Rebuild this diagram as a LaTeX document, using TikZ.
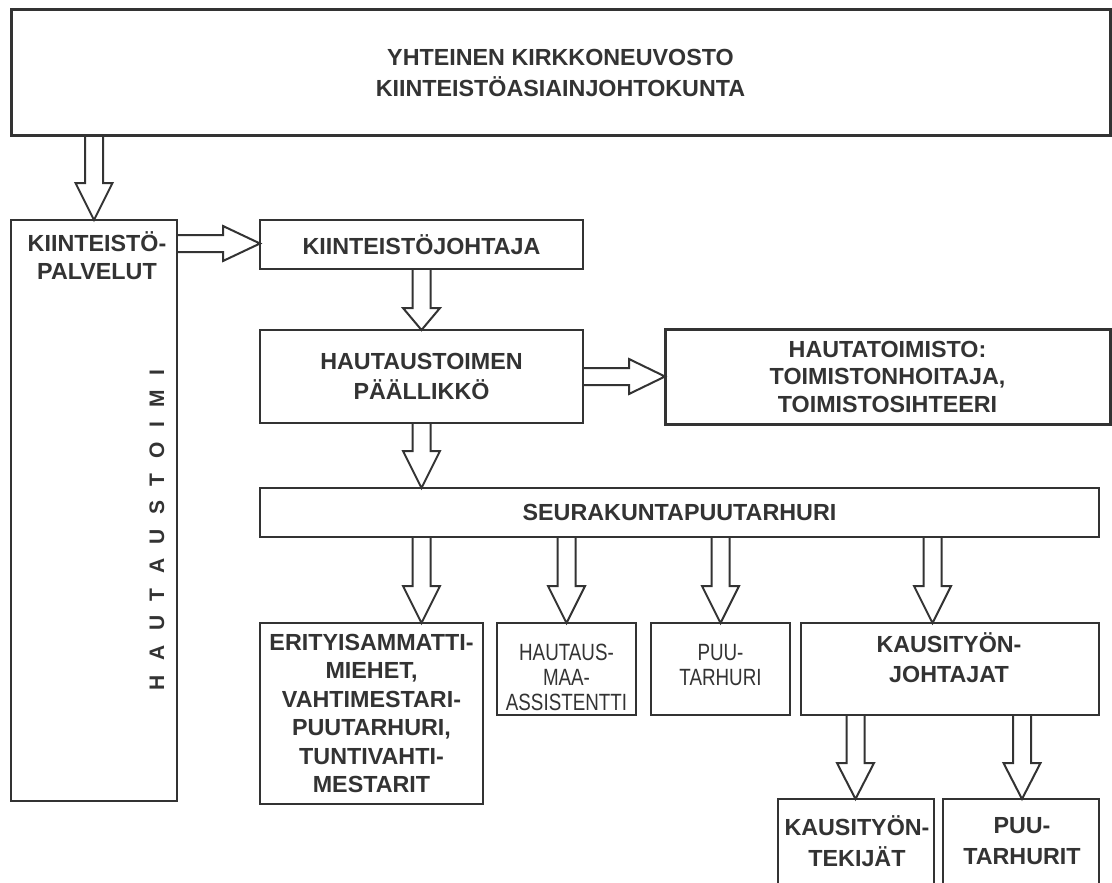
\documentclass[tikz,border=0pt]{standalone}
\usepackage{fontspec}
\setmainfont{Liberation Sans}
\newfontfamily\narrowfont[FakeStretch=0.8]{Liberation Sans}
\usetikzlibrary{calc}
\definecolor{ink}{HTML}{333333}
\tikzset{
  box/.style={draw=ink, line width=2pt, rectangle, inner sep=0pt, outer sep=0pt,
    anchor=north west, text=ink, align=center,
    font=\bfseries\fontsize{23.3}{28}\selectfont},
  thickbox/.style={box, line width=3pt},
  txt/.style={text=ink, align=center, inner sep=0pt,
    font=\bfseries\fontsize{23.3}{28}\selectfont},
  narrowtxt/.style={text=ink, align=center, inner sep=0pt,
    font=\narrowfont\fontsize{23.5}{25}\selectfont},
  harrow/.style={draw=ink, line width=2pt, line join=miter},
}
% hollow down arrow: from node, to node, x (px), head length (px)
\newcommand{\hdown}[4]{%
  \draw[harrow] let \p1=(#1.south), \p2=(#2.north) in
    (#3pt-9pt,\y1) -- (#3pt-9pt,\y2+#4pt) -- (#3pt-18.5pt,\y2+#4pt) -- (#3pt,\y2)
    -- (#3pt+18.5pt,\y2+#4pt) -- (#3pt+9pt,\y2+#4pt) -- (#3pt+9pt,\y1);}
% hollow right arrow: from node, to node, y (px), head length (px)
\newcommand{\hright}[4]{%
  \draw[harrow] let \p1=(#1.east), \p2=(#2.west) in
    (\x1,-#3pt+8.5pt) -- (\x2-#4pt,-#3pt+8.5pt) -- (\x2-#4pt,-#3pt+17.5pt) -- (\x2,-#3pt)
    -- (\x2-#4pt,-#3pt-17.5pt) -- (\x2-#4pt,-#3pt-8.5pt) -- (\x1,-#3pt-8.5pt);}
\begin{document}
\begin{tikzpicture}[x=1pt,y=-1pt]
\clip (0,0) rectangle (1112,883);
\fill[white] (0,0) rectangle (1112,883);

% boxes
\node[thickbox, minimum width=1099pt, minimum height=125pt, font=\bfseries\fontsize{23.3}{31}\selectfont] (top) at (11,10)
  {YHTEINEN KIRKKONEUVOSTO\\KIINTEISTÖASIAINJOHTOKUNTA};
\node[box, line width=2.4pt, minimum width=166pt, minimum height=581pt] (col) at (11,220) {};
\node[txt] (colt) at (97,256) {KIINTEISTÖ-\\PALVELUT};
\node[txt, rotate=90, font=\bfseries\fontsize{21}{21}\selectfont] (vert) at (157,530)
  {H\hspace{14.5pt}A\hspace{14.5pt}U\hspace{14.5pt}T\hspace{14.5pt}A\hspace{14.5pt}U\hspace{14.5pt}S\hspace{14.5pt}T\hspace{14.5pt}O\hspace{14.5pt}I\hspace{14.5pt}M\hspace{14.5pt}I};

\node[box, minimum width=323pt, minimum height=49pt] (kj) at (260,220) {KIINTEISTÖJOHTAJA};
\node[box, minimum width=323pt, minimum height=93pt, font=\bfseries\fontsize{23.3}{30}\selectfont] (hp) at (260,330)
  {HAUTAUSTOIMEN\\PÄÄLLIKKÖ};
\node[thickbox, minimum width=445pt, minimum height=95pt, font=\bfseries\fontsize{23.3}{27.5}\selectfont] (ht) at (665,329)
  {HAUTATOIMISTO:\\TOIMISTONHOITAJA,\\TOIMISTOSIHTEERI};
\node[box, minimum width=839pt, minimum height=49pt] (seu) at (260,488) {SEURAKUNTAPUUTARHURI};

\node[box, minimum width=223pt, minimum height=181pt, font=\bfseries\fontsize{23.3}{28.5}\selectfont] (eri) at (260,623)
  {ERITYISAMMATTI-\\MIEHET,\\VAHTIMESTARI-\\PUUTARHURI,\\TUNTIVAHTI-\\MESTARIT};
\node[box, minimum width=139pt, minimum height=92pt] (hm) at (497,623) {};
\node[narrowtxt] (hmt) at (566.5,677) {HAUTAUS-\\MAA-\\ASSISTENTTI};
\node[box, minimum width=139pt, minimum height=92pt] (pt) at (651,623) {};
\node[narrowtxt] (ptt) at (720.5,665) {PUU-\\TARHURI};
\node[box, minimum width=298pt, minimum height=92pt] (kj2) at (801,623) {};
\node[txt, font=\bfseries\fontsize{23.3}{30}\selectfont] (kj2t) at (949,658) {KAUSITYÖN-\\JOHTAJAT};

\node[box, minimum width=156pt, minimum height=110pt] (kt) at (778,799) {};
\node[txt, font=\bfseries\fontsize{23.3}{31}\selectfont] (ktt) at (857,841) {KAUSITYÖN-\\TEKIJÄT};
\node[box, minimum width=156pt, minimum height=110pt] (pts) at (943,799) {};
\node[txt, font=\bfseries\fontsize{23.3}{31}\selectfont] (ptst) at (1022,841) {PUU-\\TARHURIT};

% hollow arrows
\hdown{top}{col}{94}{37}
\hright{col}{kj}{243.5}{37}
\hdown{kj}{hp}{421.5}{22}
\hright{hp}{ht}{376.5}{36}
\hdown{hp}{seu}{421.5}{37}
\hdown{seu}{eri}{421.5}{37}
\hdown{seu}{hm}{566.5}{37}
\hdown{seu}{pt}{720.5}{37}
\hdown{seu}{kj2}{932.5}{37}
\hdown{kj2}{kt}{855.5}{36}
\hdown{kj2}{pts}{1022}{36}
\end{tikzpicture}
\end{document}
